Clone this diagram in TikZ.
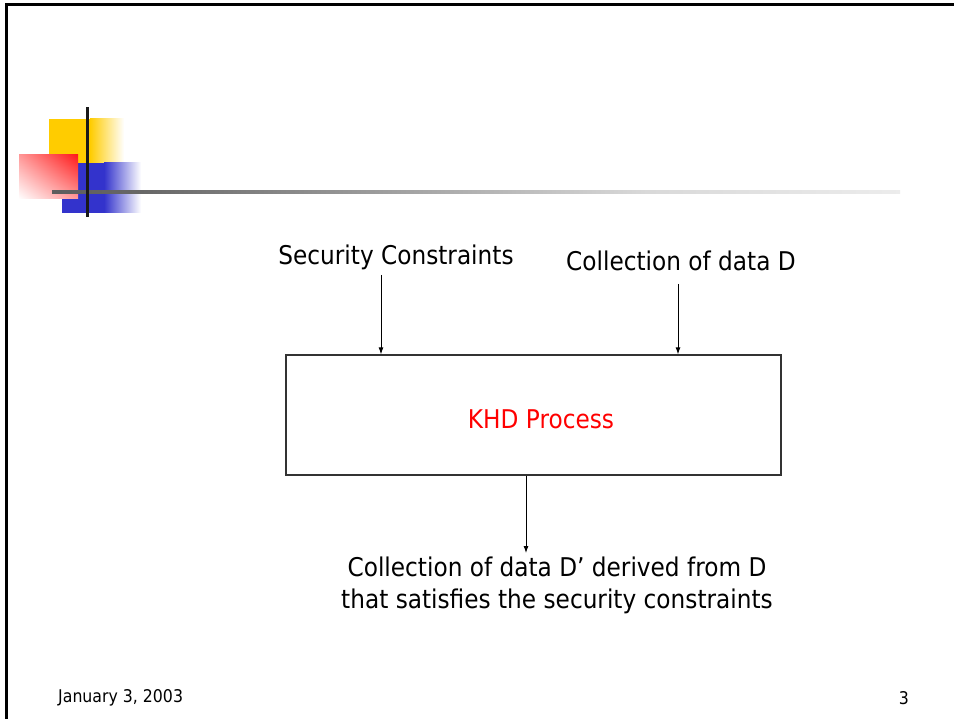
\documentclass[tikz,border=0pt]{standalone}
\usepackage{fontspec}
\setmainfont{DejaVu Sans}[FakeStretch=0.9]
\usetikzlibrary{arrows.meta,shadings}
\definecolor{deckyellow}{HTML}{FFCC00}
\definecolor{deckblue}{HTML}{3333CC}
\definecolor{deckred}{HTML}{FF1A1A}
\definecolor{framegray}{HTML}{333333}
\pgfdeclarehorizontalshading{rulefade}{100bp}{color(0bp)=(black!80); color(30bp)=(black!60); color(60bp)=(black!15); color(90bp)=(white); color(100bp)=(white)}
\tikzset{
  lbl/.style={font=\fontsize{25.8}{32}\selectfont, inner sep=0pt},
  foot/.style={font=\fontsize{17.5}{20}\selectfont, inner sep=0pt},
  arr/.style={-{Latex[length=7pt,width=5pt]}, line width=0.9pt, black},
  procbox/.style={draw=framegray, line width=1.3pt, minimum width=495pt, minimum height=120pt, inner sep=0pt}
}
\begin{document}
\begin{tikzpicture}[x=1pt,y=-1pt]
\useasboundingbox (0,0) rectangle (954,719);
\fill[white] (0,0) rectangle (954,719);
% frame
\draw[line width=2.2pt, black] (6.5,719) -- (6.5,4.5) -- (954,4.5);
% decoration
\fill[deckyellow] (49,119) rectangle (90,163);
\shade[left color=deckyellow, right color=white] (90,119) rectangle (124,163);
\fill[deckblue] (62,163) rectangle (104,213);
\shade[left color=deckblue, right color=white] (104,163) rectangle (141,213);
\shade[upper right=deckred, lower left=white, upper left=deckred!45, lower right=deckred!45] (19,155) rectangle (78,199);
\shade[shading=rulefade] (52,190.5) rectangle (900,193.5);
\fill[black!90] (85.5,107) rectangle (89,217);
% diagram
\node[lbl] (sec) at (396,257) {Security Constraints};
\node[lbl] (col) at (681,261) {Collection of data D};
\node[procbox] (box) at (533.5,415) {};
\node[lbl, text=red] (khd) at (541,419) {KHD Process};
\node[lbl, align=center] (out) at (557,585) {Collection of data D’ derived from D\\that satisfies the security constraints};
\coordinate (a1) at (381,275);
\coordinate (a2) at (678,284);
\coordinate (a3) at (526,553);
\draw[arr] (a1) -- (box.north -| a1);
\draw[arr] (a2) -- (box.north -| a2);
\draw[arr] (box.south -| a3) -- (a3);
% footer
\node[foot, anchor=west] (date) at (58,698) {January 3, 2003};
\node[foot] (page) at (904,698) {3};
\end{tikzpicture}
\end{document}
